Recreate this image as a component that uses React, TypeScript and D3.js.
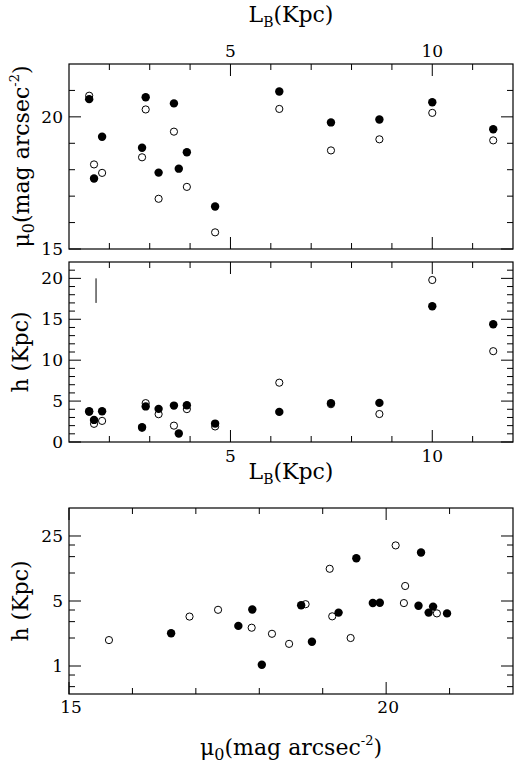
import React from 'react';
import * as d3 from 'd3';

// galaxy sample: disc scale length L_B, central surface brightness mu0, scale height h
// filled = first fit, open = second fit (one open point is missing)
const lengthB = [1.50, 1.62, 1.82, 2.81, 2.90, 3.22, 3.60, 3.72, 3.92, 4.62, 6.21, 7.49, 8.69, 10.0, 11.51];
const muFilled = [20.67, 17.67, 19.25, 18.83, 20.74, 17.89, 20.51, 18.04, 18.66, 16.61, 20.96, 19.79, 19.90, 20.55, 19.53];
const muOpen = [20.80, 18.20, 17.88, 18.47, 20.28, 16.90, 19.44, null, 17.35, 15.63, 20.30, 18.73, 19.15, 20.15, 19.11];
const hFilled = [3.75, 2.70, 3.75, 1.82, 4.35, 4.05, 4.45, 1.03, 4.50, 2.25, 3.68, 4.75, 4.78, 16.6, 14.4];
const hOpen = [3.68, 2.22, 2.58, 1.73, 4.75, 3.40, 2.00, null, 4.02, 1.90, 7.25, 4.62, 3.42, 19.8, 11.1];

// typical error bar drawn in the h panel
const errBarL = 1.67;
const errBarH = [17, 20];

const lbMajor = [5, 10];
const lbMinor = [2, 3, 4, 6, 7, 8, 9, 11];
const muMajorTop = [15, 20];
const muMinorTop = [16, 17, 18, 19, 21];
const hMajorLin = [0, 5, 10, 15, 20];
const hMinorLin = d3.range(1, 22).filter(v => v % 5 !== 0);
const muMajorBot = [15, 20];
const muMinorBot = [16, 17, 18, 19, 21];
const hMajorLog = [1, 5, 25];
const hMinorLog = [0.6, 0.8, 2, 3, 4, 10, 15, 20];

const W = 514;
const H = 763;
const left = 69;
const right = 513;
const FONT = "'DejaVu Serif', serif";
const MAJ = 12;
const MIN = 6;

type Scale = (v: number) => number;

const Frame: React.FC<{
  x: Scale; y: Scale; top: number; bottom: number;
  xMaj: number[]; xMin: number[]; yMaj: number[]; yMin: number[];
}> = ({ x, y, top, bottom, xMaj, xMin, yMaj, yMin }) => {
  const ticks: React.ReactNode[] = [];
  const xt = (vals: number[], len: number, k: string) => vals.forEach((v, i) => {
    const px = x(v);
    ticks.push(<line key={`${k}b${i}`} x1={px} x2={px} y1={bottom} y2={bottom - len} />);
    ticks.push(<line key={`${k}t${i}`} x1={px} x2={px} y1={top} y2={top + len} />);
  });
  const yt = (vals: number[], len: number, k: string) => vals.forEach((v, i) => {
    const py = y(v);
    ticks.push(<line key={`${k}l${i}`} x1={left} x2={left + len} y1={py} y2={py} />);
    ticks.push(<line key={`${k}r${i}`} x1={right} x2={right - len} y1={py} y2={py} />);
  });
  xt(xMaj, MAJ, 'xM');
  xt(xMin, MIN, 'xm');
  yt(yMaj, MAJ, 'yM');
  yt(yMin, MIN, 'ym');
  return (
    <g stroke="#000" fill="none">
      <g strokeWidth={1}>{ticks}</g>
      <rect x={left} y={top} width={right - left} height={bottom - top} strokeWidth={1.2} />
    </g>
  );
};

const Points: React.FC<{ xs: (number | null)[]; ys: (number | null)[]; x: Scale; y: Scale; open?: boolean }> =
  ({ xs, ys, x, y, open }) => (
    <g>
      {xs.map((xv, i) => {
        const yv = ys[i];
        if (xv == null || yv == null) return null;
        return open
          ? <circle key={i} cx={x(xv)} cy={y(yv)} r={3.6} fill="#fff" stroke="#000" strokeWidth={1} />
          : <circle key={i} cx={x(xv)} cy={y(yv)} r={4.2} fill="#000" />;
      })}
    </g>
  );

const App: React.FC = () => {
  // panel 1: mu0 vs L_B
  const t1 = 64, b1 = 249;
  const xL1 = d3.scaleLinear().domain([1, 12]).range([left, right]);
  const yMu = d3.scaleLinear().domain([15, 22]).range([b1, t1]);

  // panel 2: h vs L_B
  const t2 = 262, b2 = 442;
  const xL2 = d3.scaleLinear().domain([1, 12]).range([left, right]);
  const yH = d3.scaleLinear().domain([0, 22]).range([b2, t2]);

  // panel 3: h (log) vs mu0
  const t3 = 508, b3 = 694;
  const xMu = d3.scaleLinear().domain([15, 22]).range([left, right]);
  const yHlog = d3.scaleLog().domain([0.5, 50]).range([b3, t3]);

  const tickFont = 17;
  const labFont = 22;

  return (
    <svg width={W} height={H} style={{ position: 'absolute', left: 0, top: 0, background: '#fff', fontFamily: FONT }}>
      {/* top title */}
      <text x={(left + right) / 2} y={22} fontSize={labFont} textAnchor="middle">
        L<tspan fontSize={14} dy={5}>B</tspan><tspan dy={-5}>(Kpc)</tspan>
      </text>

      {/* panel 1 */}
      {lbMajor.map(v => (
        <text key={v} x={xL1(v)} y={57} fontSize={tickFont} textAnchor="middle">{v}</text>
      ))}
      {muMajorTop.map(v => (
        <text key={v} x={63} y={yMu(v) + 6} fontSize={tickFont} textAnchor="end">{v}</text>
      ))}
      <Frame x={xL1} y={yMu} top={t1} bottom={b1} xMaj={lbMajor} xMin={lbMinor} yMaj={muMajorTop} yMin={muMinorTop} />
      <Points xs={lengthB} ys={muOpen} x={xL1} y={yMu} open />
      <Points xs={lengthB} ys={muFilled} x={xL1} y={yMu} />
      <text transform={`translate(29,${(t1 + b1) / 2}) rotate(-90)`} fontSize={labFont} textAnchor="middle">
        μ<tspan fontSize={16} dy={5}>0</tspan><tspan dy={-5}>(mag arcsec</tspan>
        <tspan fontSize={13} dy={-10}>-2</tspan><tspan dy={10}>)</tspan>
      </text>

      {/* panel 2 */}
      {hMajorLin.map(v => (
        <text key={v} x={63} y={yH(v) + 6} fontSize={tickFont} textAnchor="end">{v}</text>
      ))}
      {lbMajor.map(v => (
        <text key={v} x={xL2(v)} y={462} fontSize={tickFont} textAnchor="middle">{v}</text>
      ))}
      <Frame x={xL2} y={yH} top={t2} bottom={b2} xMaj={lbMajor} xMin={lbMinor} yMaj={hMajorLin} yMin={hMinorLin} />
      <line x1={xL2(errBarL)} x2={xL2(errBarL)} y1={yH(errBarH[0])} y2={yH(errBarH[1])} stroke="#000" strokeWidth={1} />
      <Points xs={lengthB} ys={hOpen} x={xL2} y={yH} open />
      <Points xs={lengthB} ys={hFilled} x={xL2} y={yH} />
      <text x={(left + right) / 2} y={479} fontSize={labFont} textAnchor="middle">
        L<tspan fontSize={14} dy={5}>B</tspan><tspan dy={-5}>(Kpc)</tspan>
      </text>
      <text transform={`translate(28,${(t2 + b2) / 2}) rotate(-90)`} fontSize={labFont} textAnchor="middle">
        h (Kpc)
      </text>

      {/* panel 3 */}
      {hMajorLog.map(v => (
        <text key={v} x={63} y={yHlog(v) + 6} fontSize={tickFont} textAnchor="end">{v}</text>
      ))}
      {muMajorBot.map(v => (
        <text key={v} x={xMu(v) + 2} y={713} fontSize={tickFont} textAnchor="middle">{v}</text>
      ))}
      <Frame x={xMu} y={yHlog} top={t3} bottom={b3} xMaj={muMajorBot} xMin={muMinorBot} yMaj={hMajorLog} yMin={hMinorLog} />
      <Points xs={muOpen} ys={hOpen} x={xMu} y={yHlog} open />
      <Points xs={muFilled} ys={hFilled} x={xMu} y={yHlog} />
      <text x={(left + right) / 2} y={755} fontSize={labFont} textAnchor="middle">
        μ<tspan fontSize={16} dy={5}>0</tspan><tspan dy={-5}>(mag arcsec</tspan>
        <tspan fontSize={13} dy={-10}>-2</tspan><tspan dy={10}>)</tspan>
      </text>
      <text transform={`translate(28,${(t3 + b3) / 2}) rotate(-90)`} fontSize={labFont} textAnchor="middle">
        h (Kpc)
      </text>
    </svg>
  );
};

export default App;
